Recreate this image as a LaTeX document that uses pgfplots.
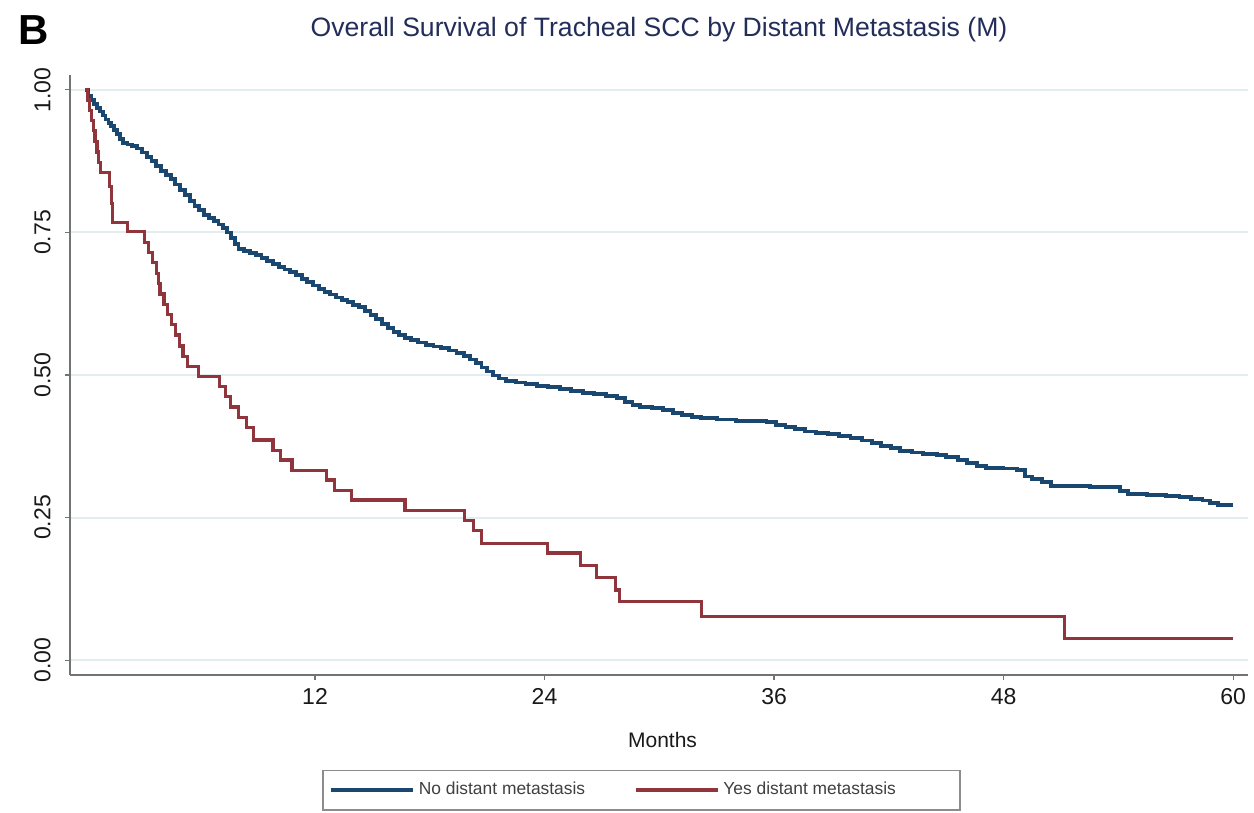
\documentclass[border=0pt]{standalone}
\usepackage{fontspec}
\setmainfont{Liberation Sans}
\usepackage{pgfplots}
\usepackage{pgfplotstable}
\pgfplotsset{compat=1.18}
\definecolor{kmblue}{RGB}{26,71,111}
\definecolor{kmred}{RGB}{144,53,59}
\definecolor{gridc}{RGB}{226,237,240}
\definecolor{titlec}{RGB}{35,45,90}

\pgfplotstableread{
x y
0 1.000
0.15 0.990
0.3 0.982
0.45 0.975
0.6 0.968
0.75 0.962
0.9 0.955
1.05 0.948
1.2 0.942
1.35 0.936
1.5 0.930
1.65 0.922
1.8 0.914
1.95 0.907
2.2 0.904
2.45 0.901
2.7 0.897
2.95 0.890
3.2 0.882
3.45 0.875
3.7 0.866
3.95 0.858
4.2 0.850
4.45 0.843
4.7 0.834
4.95 0.825
5.2 0.815
5.45 0.805
5.7 0.797
5.95 0.789
6.2 0.781
6.45 0.775
6.7 0.770
6.95 0.764
7.2 0.758
7.4 0.750
7.6 0.740
7.8 0.730
8.0 0.721
8.3 0.717
8.6 0.714
8.9 0.710
9.2 0.705
9.5 0.700
9.8 0.695
10.1 0.690
10.4 0.685
10.7 0.680
11.0 0.675
11.3 0.669
11.6 0.663
11.9 0.657
12.2 0.651
12.5 0.646
12.8 0.641
13.1 0.636
13.4 0.632
13.7 0.628
14.0 0.623
14.3 0.619
14.6 0.612
14.9 0.605
15.2 0.598
15.5 0.590
15.8 0.583
16.1 0.576
16.4 0.570
16.7 0.565
17.0 0.561
17.4 0.557
17.8 0.553
18.2 0.550
18.6 0.547
19.0 0.543
19.4 0.539
19.8 0.533
20.1 0.527
20.4 0.521
20.7 0.513
21.0 0.506
21.3 0.499
21.6 0.494
22.0 0.490
22.5 0.487
23.0 0.484
23.6 0.481
24.2 0.479
24.8 0.476
25.4 0.472
26.0 0.469
26.6 0.466
27.2 0.463
27.8 0.459
28.2 0.453
28.6 0.447
29.0 0.444
29.6 0.442
30.2 0.439
30.7 0.434
31.2 0.430
31.7 0.427
32.2 0.424
33.0 0.422
34.0 0.420
35.0 0.419
35.6 0.417
36.1 0.413
36.6 0.409
37.1 0.405
37.6 0.401
38.2 0.398
38.8 0.396
39.4 0.393
40.0 0.390
40.6 0.385
41.1 0.381
41.6 0.376
42.1 0.372
42.6 0.367
43.2 0.364
43.8 0.362
44.5 0.360
45.0 0.356
45.6 0.351
46.1 0.346
46.6 0.341
47.1 0.337
48.0 0.336
48.7 0.334
49.1 0.322
49.5 0.317
50.0 0.313
50.5 0.306
51.5 0.305
52.5 0.304
53.5 0.303
54.1 0.296
54.5 0.292
55.5 0.290
56.5 0.288
57.2 0.286
57.8 0.283
58.4 0.280
58.8 0.275
59.2 0.272
60.0 0.272
}\noM

\pgfplotstableread{
x y
0 1.000
0.1 0.982
0.2 0.964
0.3 0.946
0.4 0.928
0.5 0.910
0.6 0.891
0.7 0.873
0.8 0.855
1.25 0.830
1.35 0.800
1.4 0.767
2.2 0.751
3.1 0.733
3.3 0.715
3.5 0.697
3.7 0.678
3.8 0.660
3.9 0.642
4.1 0.624
4.3 0.606
4.5 0.588
4.7 0.570
4.9 0.551
5.1 0.533
5.35 0.515
5.9 0.498
7.0 0.480
7.3 0.462
7.6 0.444
8.0 0.426
8.4 0.408
8.8 0.386
9.8 0.368
10.2 0.351
10.8 0.333
12.6 0.316
13.0 0.298
13.9 0.281
16.7 0.263
19.8 0.245
20.3 0.228
20.7 0.205
24.15 0.188
25.9 0.166
26.7 0.145
27.7 0.123
27.9 0.103
32.2 0.077
51.2 0.038
60.0 0.038
}\yesM

\begin{document}
\begin{tikzpicture}
\path[use as bounding box] (-35bp,-69bp) rectangle (592bp,337.5bp);
\begin{axis}[
  at={(0,0)}, anchor=south west,
  scale only axis, width=589bp, height=300bp,
  xmin=-0.81, xmax=60.78, ymin=-0.026, ymax=1.026,
  axis x line*=bottom, axis y line*=left,
  axis line style={-, draw=black!55, line width=0.8bp},
  xtick={12,24,36,48,60},
  ytick={0,0.25,0.5,0.75,1},
  yticklabels={0.00,0.25,0.50,0.75,1.00},
  tick align=outside,
  major tick length=2.5bp,
  tick style={draw=black!55, line width=0.6bp},
  /pgf/number format/assume math mode=true,
  tick label style={font=\fontsize{11.5bp}{13bp}\selectfont, text=black!90},
  yticklabel style={rotate=90, anchor=south, inner sep=0pt, yshift=7bp},
  xticklabel style={anchor=north, inner sep=0pt, yshift=-4bp},
  ymajorgrids, grid style={draw=gridc, line width=1bp},
  xlabel={Months},
  xlabel style={at={(axis description cs:0.503,0)}, anchor=center, yshift=-32.5bp, font=\fontsize{10.5bp}{12bp}\selectfont, text=black!90},
  legend columns=2,
  legend style={at={(axis description cs:0.4851,-0.1917)}, anchor=center,
    draw=black!45, line width=0.7bp, inner xsep=3bp, inner ysep=4bp,
    font=\fontsize{8.7bp}{10bp}\selectfont, text=black!75,
    /tikz/every even column/.append style={column sep=22.5bp}},
  legend image code/.code={\draw[#1] (0bp,0bp) -- (41bp,0bp);},
  clip=false,
]
\addplot[const plot, kmblue, line width=1.9bp] table[x=x,y=y] {\noM};
\addlegendentry{No distant metastasis}
\addplot[const plot, kmred, line width=1.6bp] table[x=x,y=y] {\yesM};
\addlegendentry{Yes distant metastasis\hspace*{27bp}}
\node[font=\fontsize{13.3bp}{15bp}\selectfont, text=titlec] at ([yshift=22.5bp]axis description cs:0.5,1) {Overall Survival of Tracheal SCC by Distant Metastasis (M)};
\node[font=\fontsize{21bp}{24bp}\selectfont\bfseries] at ([xshift=-18bp,yshift=22.5bp]axis description cs:0,1) {B};
\end{axis}
\end{tikzpicture}
\end{document}
